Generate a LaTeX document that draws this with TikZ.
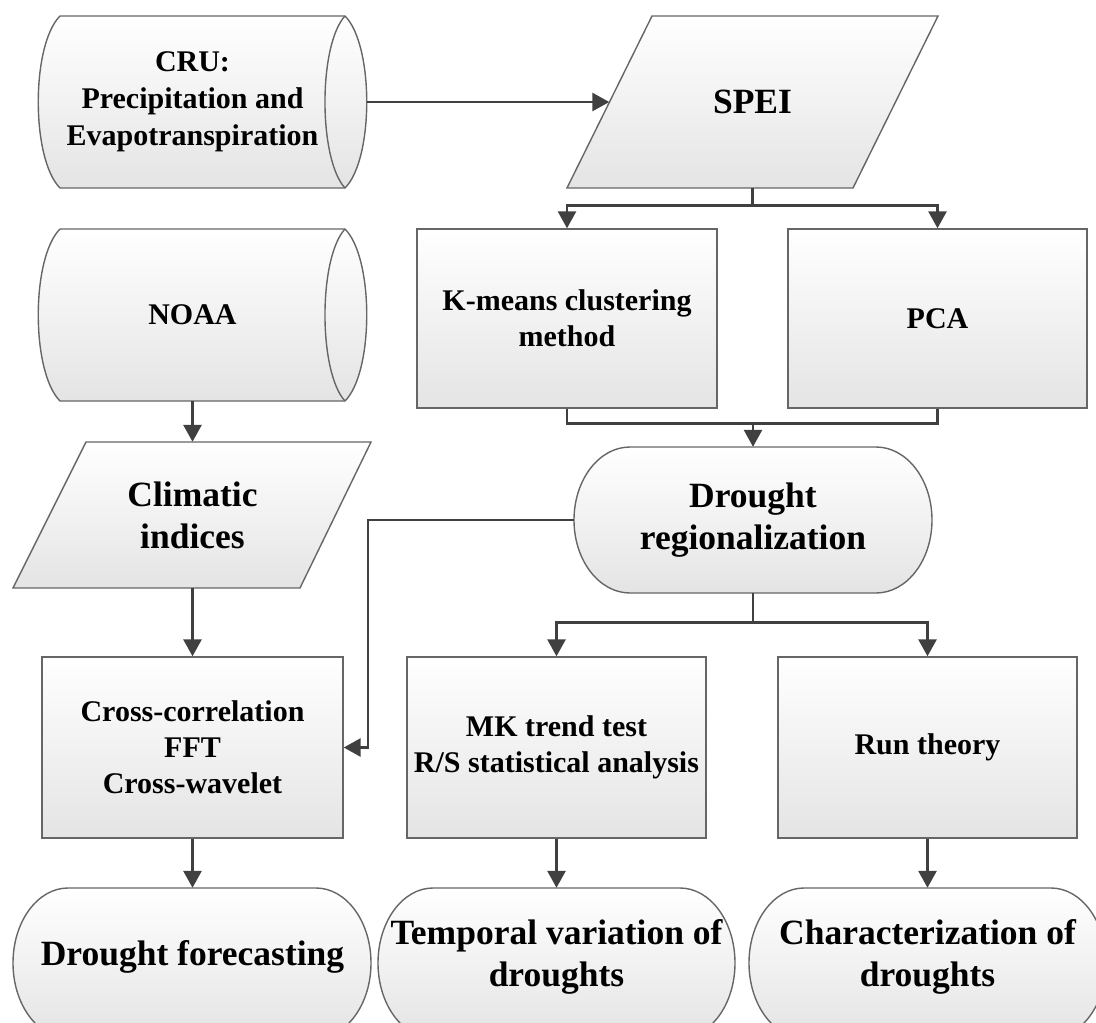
\documentclass[tikz,border=0pt]{standalone}
\usepackage{fontspec}
\setmainfont{Liberation Serif}
\usetikzlibrary{arrows.meta,calc}
\definecolor{linec}{HTML}{404040}
\definecolor{bordc}{HTML}{666666}
\definecolor{fillb}{HTML}{E4E4E4}
\begin{document}
\begin{tikzpicture}[x=1pt,y=-1pt,
  shp/.style={draw=bordc, line width=1.4pt, top color=white, bottom color=fillb},
  bord/.style={draw=bordc, line width=1.4pt},
  boxn/.style={shp, rectangle, inner sep=0pt, align=center, font=\fontsize{30}{36}\selectfont\bfseries},
  txtbig/.style={inner sep=0pt, align=center, font=\fontsize{35.5}{42}\selectfont\bfseries},
  txtmid/.style={inner sep=0pt, align=center, font=\fontsize{30}{37}\selectfont\bfseries},
  txtbox/.style={boxn, font=\fontsize{30}{36}\selectfont\bfseries},
  lineonly/.style={draw=linec, line width=2.8pt},
  conn/.style={draw=linec, line width=2.8pt, -{Triangle[length=17pt,width=18pt]}}
]
\useasboundingbox (0,0) rectangle (1096,1023);
\clip (0,0) rectangle (1096,1023);

% ---- CRU cylinder
\path[shp] (60,16) -- (345,16) .. controls (374,45) and (374,159) .. (345,188)
  -- (60,188) .. controls (31,159) and (31,45) .. (60,16) -- cycle;
\draw[bord] (345,16) .. controls (318.3,45) and (318.3,159) .. (345,188);
\node[txtmid, minimum width=349, minimum height=172] (cru) at (192.5,102)
  {CRU:\\Precipitation and\\Evapotranspiration};

% ---- NOAA cylinder
\path[shp] (60,229) -- (345,229) .. controls (374,258) and (374,372) .. (345,401)
  -- (60,401) .. controls (31,372) and (31,258) .. (60,229) -- cycle;
\draw[bord] (345,229) .. controls (318.3,258) and (318.3,372) .. (345,401);
\node[txtmid, minimum width=349, minimum height=172] (noaa) at (192.5,315) {NOAA};

% ---- Climatic indices parallelogram
\path[shp] (86,442) -- (371,442) -- (300,588) -- (13,588) -- cycle;
\node[txtbig, minimum width=286, minimum height=146] (ci) at (192.5,515) {Climatic\\indices};

% ---- SPEI parallelogram
\path[shp] (652,16) -- (938,16) -- (853,188) -- (567,188) -- cycle;
\node[txtbig, minimum width=286, minimum height=172] (spei) at (752.5,102) {SPEI};

% ---- K-means and PCA
\node[boxn, minimum width=300, minimum height=179] (km) at (567,318.5) {K-means clustering\\method};
\node[boxn, minimum width=299, minimum height=179] (pca) at (937.5,318.5) {PCA};

% ---- Drought regionalization
\path[shp] (630,447) -- (876,447) arc[start angle=-90,end angle=90,x radius=56,y radius=73]
  -- (630,593) arc[start angle=90,end angle=270,x radius=56,y radius=73] -- cycle;
\node[txtbig, minimum width=358, minimum height=146] (dr) at (753,520) {Drought\\regionalization};

% ---- method boxes
\node[txtbox, minimum width=301, minimum height=181] (cc) at (192.5,747.5) {Cross-correlation\\FFT\\Cross-wavelet};
\node[txtbox, minimum width=299, minimum height=181] (mk) at (556.5,747.5) {MK trend test\\R/S statistical analysis};
\node[txtbox, minimum width=299, minimum height=181] (run) at (927.5,747.5) {Run theory};

% ---- bottom terminals
\path[shp] (68,888) -- (316,888) arc[start angle=-90,end angle=90,x radius=55,y radius=75]
  -- (68,1038) arc[start angle=90,end angle=270,x radius=55,y radius=75] -- cycle;
\node[txtbig, minimum width=358, minimum height=138] (df) at (192.5,957) {Drought forecasting};
\path[shp] (433,888) -- (680,888) arc[start angle=-90,end angle=90,x radius=55,y radius=75]
  -- (433,1038) arc[start angle=90,end angle=270,x radius=55,y radius=75] -- cycle;
\node[txtbig, minimum width=357, minimum height=138] (tv) at (556.5,957) {Temporal variation of\\droughts};
\path[shp] (804,888) -- (1051,888) arc[start angle=-90,end angle=90,x radius=55,y radius=75]
  -- (804,1038) arc[start angle=90,end angle=270,x radius=55,y radius=75] -- cycle;
\node[txtbig, minimum width=357, minimum height=138] (ch) at (927.5,957) {Characterization of\\droughts};

% ---- connectors
\draw[conn] (cru.east) -- (spei.west);
\draw[conn] (noaa.south) -- (ci.north);
\draw[conn] (ci.south) -- (cc.north);

\draw[lineonly] (spei.south) -- ++(0,17) coordinate (sp1);
\draw[conn] (sp1) -| (km.north);
\draw[conn] (sp1) -| (pca.north);

\draw[lineonly] (km.south) -- ++(0,15) coordinate (mg) -| (pca.south);
\draw[conn] (mg -| dr.north) -- (dr.north);

\draw[lineonly] (dr.south) -- ++(0,29) coordinate (dr1);
\draw[conn] (dr1) -| (mk.north);
\draw[conn] (dr1) -| (run.north);

\coordinate (bend) at (368,520);
\draw[conn] (dr.west) -- (bend) |- (cc.east);

\draw[conn] (cc.south) -- (df.north);
\draw[conn] (mk.south) -- (tv.north);
\draw[conn] (run.south) -- (ch.north);
\end{tikzpicture}
\end{document}
